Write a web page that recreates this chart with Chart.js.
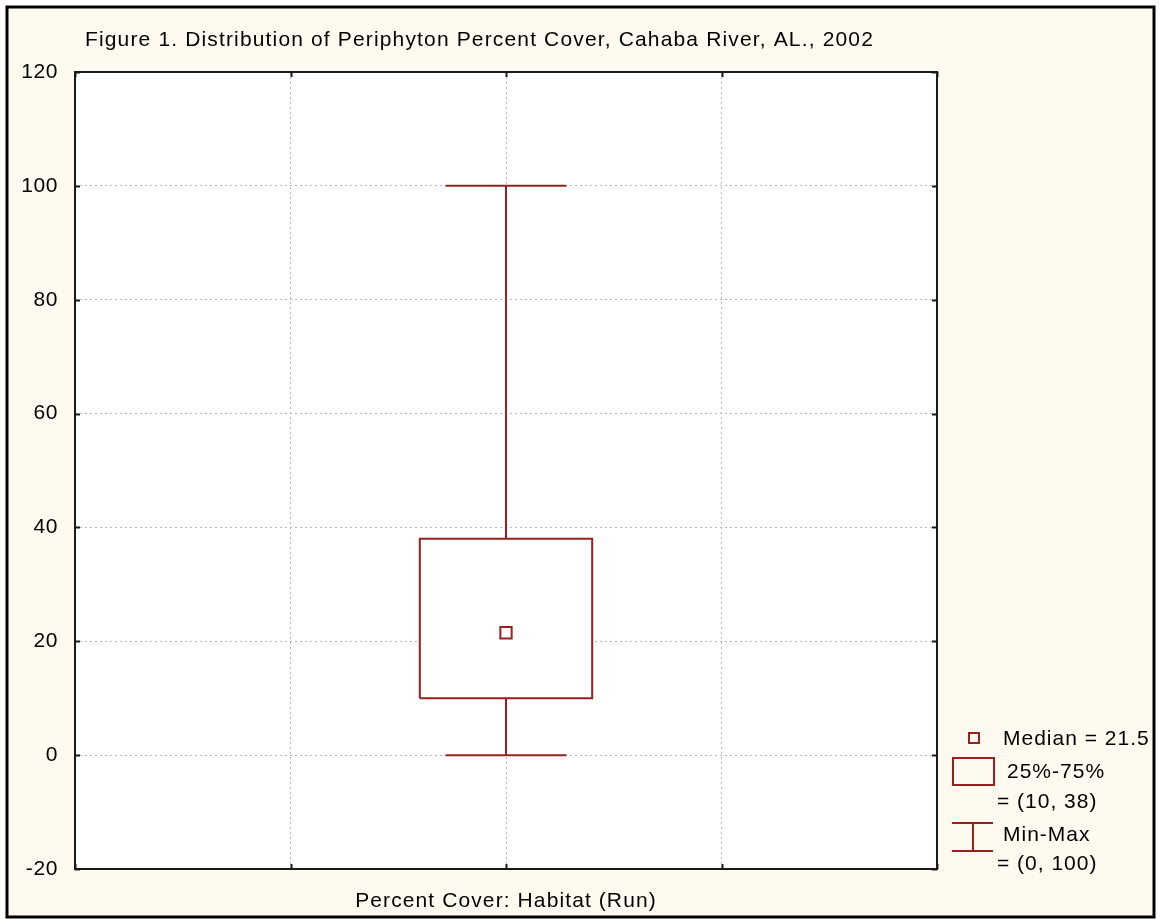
<!DOCTYPE html>
<html>
<head>
<meta charset="utf-8">
<script src="https://cdn.jsdelivr.net/npm/chart.js@4"></script>
<style>
  html, body { margin: 0; padding: 0; background: #ffffff; }
  canvas { display: block; }
</style>
</head>
<body>
<canvas id="boxChart" width="1167" height="919"></canvas>
<script>
// data
const categories = ['Percent Cover: Habitat (Run)'];
const minVals = [0];
const q1Vals = [10];
const medianVals = [21.5];
const q3Vals = [38];
const maxVals = [100];
const yTicks = [-20, 0, 20, 40, 60, 80, 100, 120];
const xGrid = [0, 1, 2, 3, 4];

const titleText = 'Figure 1. Distribution of Periphyton Percent Cover, Cahaba River, AL., 2002';

const RED = '#9a1f1f';
const CREAM = '#fffaef';
const FONT = '21px "Liberation Sans", Arial, sans-serif';

// box sits in the middle of a 0..4 axis
const xPos = 2;
const boxHalf = 0.4;
const capHalf = 0.28;

const i = 0;
const stem = [{ x: xPos, y: minVals[i] }, { x: xPos, y: maxVals[i] }];
const lowCap = [{ x: xPos - capHalf, y: minVals[i] }, { x: xPos + capHalf, y: minVals[i] }];
const highCap = [{ x: xPos - capHalf, y: maxVals[i] }, { x: xPos + capHalf, y: maxVals[i] }];
const boxPts = [
  { x: xPos - boxHalf, y: q1Vals[i] },
  { x: xPos + boxHalf, y: q1Vals[i] },
  { x: xPos + boxHalf, y: q3Vals[i] },
  { x: xPos - boxHalf, y: q3Vals[i] },
  { x: xPos - boxHalf, y: q1Vals[i] }
];

function lineSet(data, extra) {
  return Object.assign({
    type: 'scatter',
    data: data,
    showLine: true,
    borderColor: RED,
    borderWidth: 2,
    pointRadius: 0,
    tension: 0,
    fill: false,
    borderJoinStyle: 'miter'
  }, extra || {});
}

const framePlugin = {
  id: 'frame',
  beforeDraw(chart) {
    const ctx = chart.ctx;
    const a = chart.chartArea;
    ctx.save();
    ctx.fillStyle = '#ffffff';
    ctx.fillRect(0, 0, chart.width, chart.height);
    ctx.fillStyle = CREAM;
    ctx.fillRect(7, 7, 1147, 910);
    ctx.strokeStyle = '#000000';
    ctx.lineWidth = 3;
    ctx.strokeRect(7, 7, 1147, 910);
    ctx.fillStyle = '#ffffff';
    ctx.fillRect(a.left, a.top, a.right - a.left, a.bottom - a.top);
    ctx.restore();
    // the original font is a little wider than Liberation Sans
    ctx.letterSpacing = '0.6px';
  },
  afterDraw(chart) {
    const ctx = chart.ctx;
    const a = chart.chartArea;
    const xs = chart.scales.x;
    const ys = chart.scales.y;
    ctx.save();
    // plot frame
    ctx.strokeStyle = '#1a1a1a';
    ctx.lineWidth = 2;
    ctx.strokeRect(a.left, a.top, a.right - a.left, a.bottom - a.top);
    // inward tick marks
    ctx.beginPath();
    yTicks.forEach(v => {
      const y = Math.round(ys.getPixelForValue(v)) + 0.5;
      ctx.moveTo(a.left, y); ctx.lineTo(a.left + 5, y);
      ctx.moveTo(a.right, y); ctx.lineTo(a.right - 5, y);
    });
    xGrid.forEach(v => {
      const x = Math.round(xs.getPixelForValue(v)) + 0.5;
      ctx.moveTo(x, a.top); ctx.lineTo(x, a.top + 5);
      ctx.moveTo(x, a.bottom); ctx.lineTo(x, a.bottom - 5);
    });
    ctx.stroke();

    // title and axis label
    ctx.fillStyle = '#000000';
    ctx.font = FONT;
    ctx.textBaseline = 'alphabetic';
    ctx.textAlign = 'left';
    ctx.letterSpacing = '1.15px';
    ctx.fillText(titleText, 85, 46);
    ctx.textAlign = 'center';
    ctx.letterSpacing = '1.1px';
    ctx.fillText(categories[0], xs.getPixelForValue(xPos), 907);

    // legend
    ctx.textAlign = 'left';
    ctx.textBaseline = 'middle';
    ctx.letterSpacing = '1px';
    ctx.strokeStyle = RED;
    ctx.lineWidth = 2;
    ctx.strokeRect(969, 733, 10, 10);
    ctx.fillText('Median = ' + medianVals[0], 1003, 739);
    ctx.strokeRect(953, 758, 41, 27);
    ctx.fillText('25%-75%', 1007, 772);
    ctx.fillText('= (' + q1Vals[0] + ', ' + q3Vals[0] + ')', 997, 802);
    ctx.beginPath();
    ctx.moveTo(952, 823); ctx.lineTo(993, 823);
    ctx.moveTo(952, 851); ctx.lineTo(993, 851);
    ctx.moveTo(973, 823); ctx.lineTo(973, 851);
    ctx.stroke();
    ctx.fillText('Min-Max', 1003, 835);
    ctx.fillText('= (' + minVals[0] + ', ' + maxVals[0] + ')', 997, 864);
    ctx.restore();
  }
};

const ctx = document.getElementById('boxChart').getContext('2d');
new Chart(ctx, {
  type: 'scatter',
  data: {
    datasets: [
      {
        type: 'scatter',
        data: [{ x: xPos, y: medianVals[i] }],
        pointStyle: 'rect',
        pointRadius: 8,
        pointHoverRadius: 8,
        borderColor: RED,
        backgroundColor: '#ffffff',
        borderWidth: 2
      },
      lineSet(boxPts, { fill: 'shape', backgroundColor: '#ffffff' }),
      lineSet(highCap),
      lineSet(lowCap),
      lineSet(stem)
    ]
  },
  options: {
    responsive: false,
    devicePixelRatio: 1,
    animation: false,
    layout: { padding: { top: 72, right: 230, left: 0, bottom: 0 } },
    scales: {
      x: {
        type: 'linear',
        min: 0,
        max: 4,
        afterBuildTicks: s => { s.ticks = xGrid.map(v => ({ value: v })); },
        afterFit: s => { s.height = 50; },
        ticks: { display: false },
        grid: { color: '#b8b8b8', drawTicks: false, lineWidth: 1 },
        border: { display: false, dash: [2, 3] }
      },
      y: {
        type: 'linear',
        min: -20,
        max: 120,
        afterBuildTicks: s => { s.ticks = yTicks.map(v => ({ value: v })); },
        afterFit: s => { s.width = 75; },
        ticks: {
          color: '#000000',
          padding: 17,
          font: { family: '"Liberation Sans", Arial, sans-serif', size: 21 }
        },
        grid: { color: '#b8b8b8', drawTicks: false, lineWidth: 1 },
        border: { display: false, dash: [2, 3] }
      }
    },
    plugins: {
      legend: { display: false },
      tooltip: { enabled: false },
      title: { display: false }
    }
  },
  plugins: [framePlugin]
});
</script>
</body>
</html>
